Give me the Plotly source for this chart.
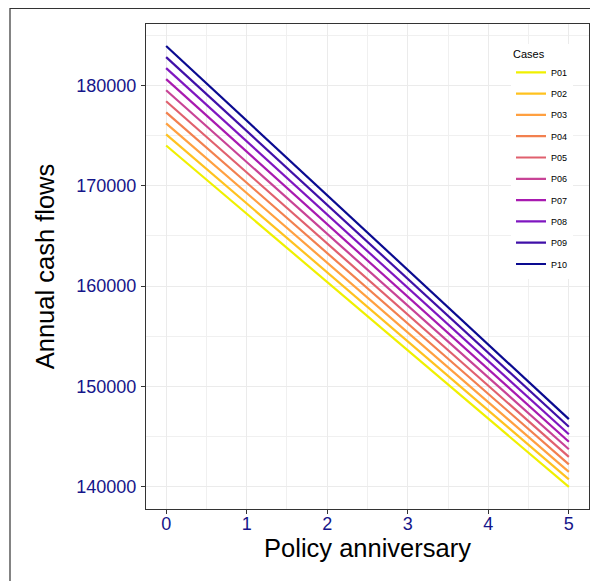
import plotly.graph_objects as go

years = [0, 1, 2, 3, 4, 5]
cases = ["P01", "P02", "P03", "P04", "P05", "P06", "P07", "P08", "P09", "P10"]
p01 = [174000, 167200, 160400, 153600, 146800, 140000]
p02 = [175100, 168230, 161360, 154490, 147620, 140750]
p03 = [176200, 169260, 162320, 155380, 148440, 141500]
p04 = [177300, 170290, 163280, 156270, 149260, 142250]
p05 = [178400, 171320, 164240, 157160, 150080, 143000]
p06 = [179500, 172350, 165200, 158050, 150900, 143750]
p07 = [180600, 173380, 166160, 158940, 151720, 144500]
p08 = [181700, 174410, 167120, 159830, 152540, 145250]
p09 = [182800, 175440, 168080, 160720, 153360, 146000]
p10 = [183900, 176470, 169040, 161610, 154180, 146750]
values = [p01, p02, p03, p04, p05, p06, p07, p08, p09, p10]
colors = ["#F0F000", "#FFC21F", "#FFA040", "#F2804F", "#E0606E", "#C84396",
          "#A81AB0", "#7F16C0", "#4010A8", "#0A0A90"]

fig = go.Figure()
for name, vals, col in zip(cases, values, colors):
    fig.add_trace(go.Scatter(x=years, y=vals, mode="lines", name=name,
                             legendgroup=name,
                             line=dict(color=col, width=2.2)))

OFF = 8  # page body margin
W, H = 598 - OFF, 581 - OFF
ml, mr, mt, mb = 146 - OFF, 9, 24 - OFF, 72
pw, ph = W - ml - mr, H - mt - mb

def px2x(px):
    return (px - OFF - ml) / pw

def py2y(py):
    return (H - mb - (py - OFF)) / ph

tickfont = dict(family="Liberation Sans, Arial, sans-serif", size=18, color="#15158a")

fig.update_layout(
    width=W, height=H,
    margin=dict(l=ml, r=mr, t=mt, b=mb, pad=0),
    paper_bgcolor="white", plot_bgcolor="white",
    font=dict(family="Liberation Sans, Arial, sans-serif", color="black"),
    xaxis=dict(
        range=[-0.25, 5.25], tickvals=[0, 1, 2, 3, 4, 5], ticktext=["0", "1", "2", "3", "4", "5"],
        showgrid=True, gridcolor="#EBEBEB", gridwidth=1,
        minor=dict(tickvals=[0.5, 1.5, 2.5, 3.5, 4.5], showgrid=True, gridcolor="#F0F0F0", gridwidth=0.7),
        showline=True, linecolor="#333333", linewidth=1, mirror=True,
        ticks="outside", ticklen=4, tickcolor="#333333", tickwidth=1,
        tickfont=tickfont, zeroline=False, ticklabelstandoff=-6,
        title=dict(text="Policy anniversary", font=dict(size=25.5, color="black"), standoff=2),
    ),
    yaxis=dict(
        range=[137805, 186095], tickvals=[140000, 150000, 160000, 170000, 180000],
        ticktext=["140000", "150000", "160000", "170000", "180000"],
        showgrid=True, gridcolor="#EBEBEB", gridwidth=1,
        minor=dict(tickvals=[145000, 155000, 165000, 175000, 185000], showgrid=True, gridcolor="#F0F0F0", gridwidth=0.7),
        showline=True, linecolor="#333333", linewidth=1, mirror=True,
        ticks="outside", ticklen=4, tickcolor="#333333", tickwidth=1,
        tickfont=tickfont, zeroline=False, ticklabelstandoff=1,
        title=dict(text="Annual cash flows", font=dict(size=25.5, color="black"), standoff=14),
    ),
    legend=dict(
        x=px2x(511), y=py2y(43.5), xanchor="left", yanchor="top",
        bgcolor="white", borderwidth=0,
        title=dict(text="Cases", font=dict(size=11)),
        font=dict(size=9), itemwidth=30, tracegroupgap=2.3,
    ),
    shapes=[dict(type="rect", xref="paper", yref="paper",
                 x0=px2x(10), x1=px2x(640), y0=py2y(620), y1=py2y(8.5),
                 line=dict(color="#333333", width=1.2), fillcolor="rgba(0,0,0,0)", layer="below")],
)

fig.write_html("out.html")
